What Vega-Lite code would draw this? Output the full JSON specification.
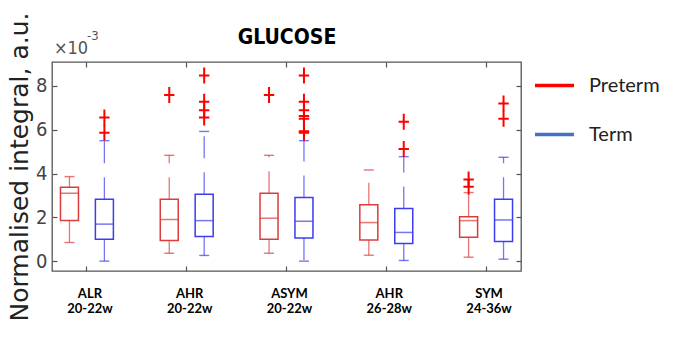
{
  "$schema": "https://vega.github.io/schema/vega-lite/v6.json",
  "width": 469,
  "height": 209,
  "autosize": {"type": "none"},
  "padding": {"left": 52, "top": 62, "right": 157, "bottom": 68},
  "background": "white",
  "config": {"view": {"stroke": "#555555", "strokeWidth": 1.3}},
  "datasets": {
    "stats": [
      {"group": "ALR|20-22w", "series": "Preterm", "lo": 0.85, "q1": 1.85, "med": 3.10, "q3": 3.37, "hi": 3.86},
      {"group": "ALR|20-22w", "series": "Term", "lo": 0.0, "q1": 1.0, "med": 1.69, "q3": 2.82, "hi": 5.5},
      {"group": "AHR|20-22w", "series": "Preterm", "lo": 0.36, "q1": 0.94, "med": 1.90, "q3": 2.82, "hi": 4.83},
      {"group": "AHR|20-22w", "series": "Term", "lo": 0.26, "q1": 1.12, "med": 1.85, "q3": 3.05, "hi": 5.92},
      {"group": "ASYM|20-22w", "series": "Preterm", "lo": 0.36, "q1": 1.0, "med": 1.96, "q3": 3.10, "hi": 4.83},
      {"group": "ASYM|20-22w", "series": "Term", "lo": 0.0, "q1": 1.06, "med": 1.82, "q3": 2.90, "hi": 5.5},
      {"group": "AHR|26-28w", "series": "Preterm", "lo": 0.27, "q1": 0.97, "med": 1.76, "q3": 2.57, "hi": 4.16},
      {"group": "AHR|26-28w", "series": "Term", "lo": 0.03, "q1": 0.80, "med": 1.31, "q3": 2.40, "hi": 4.77},
      {"group": "SYM|24-36w", "series": "Preterm", "lo": 0.18, "q1": 1.09, "med": 1.85, "q3": 2.03, "hi": 3.13},
      {"group": "SYM|24-36w", "series": "Term", "lo": 0.09, "q1": 0.90, "med": 1.88, "q3": 2.82, "hi": 4.74}
    ],
    "outliers": [
      {"group": "ALR|20-22w", "series": "Term", "value": 6.56},
      {"group": "ALR|20-22w", "series": "Term", "value": 5.86},
      {"group": "AHR|20-22w", "series": "Preterm", "value": 7.58},
      {"group": "AHR|20-22w", "series": "Term", "value": 8.47},
      {"group": "AHR|20-22w", "series": "Term", "value": 7.27},
      {"group": "AHR|20-22w", "series": "Term", "value": 6.89},
      {"group": "AHR|20-22w", "series": "Term", "value": 6.56},
      {"group": "ASYM|20-22w", "series": "Preterm", "value": 7.58},
      {"group": "ASYM|20-22w", "series": "Term", "value": 8.47},
      {"group": "ASYM|20-22w", "series": "Term", "value": 7.27},
      {"group": "ASYM|20-22w", "series": "Term", "value": 6.89},
      {"group": "ASYM|20-22w", "series": "Term", "value": 6.62},
      {"group": "ASYM|20-22w", "series": "Term", "value": 6.5},
      {"group": "ASYM|20-22w", "series": "Term", "value": 5.93},
      {"group": "ASYM|20-22w", "series": "Term", "value": 5.86},
      {"group": "AHR|26-28w", "series": "Term", "value": 6.36},
      {"group": "AHR|26-28w", "series": "Term", "value": 5.12},
      {"group": "SYM|24-36w", "series": "Preterm", "value": 3.73},
      {"group": "SYM|24-36w", "series": "Preterm", "value": 3.40},
      {"group": "SYM|24-36w", "series": "Term", "value": 7.2},
      {"group": "SYM|24-36w", "series": "Term", "value": 6.5}
    ],
    "annot": [
      {"base": "×10", "exp": "-3"}
    ]
  },
  "layer": [
    {
      "data": {"name": "stats"},
      "mark": {"type": "rule", "strokeWidth": 1.3, "opacity": 0.7, "strokeDash": [22, 14]},
      "encoding": {
        "x": {"field": "group", "type": "nominal", "sort": ["ALR|20-22w", "AHR|20-22w", "ASYM|20-22w", "AHR|26-28w", "SYM|24-36w"], "scale": {"paddingInner": 0.3, "paddingOuter": 0}, "axis": null},
        "xOffset": {"field": "series", "type": "nominal", "scale": {"domain": ["Preterm", "Term"], "paddingInner": 0, "paddingOuter": 0}},
        "y": {"field": "q3", "type": "quantitative", "scale": {"domain": [-0.45, 9.09], "nice": false, "zero": false}, "axis": null},
        "y2": {"field": "hi"},
        "stroke": {"field": "series", "type": "nominal", "scale": {"range": ["#dc3c3c", "#3c3cf0"]}, "legend": null}
      }
    },
    {
      "data": {"name": "stats"},
      "mark": {"type": "rule", "strokeWidth": 1.3, "opacity": 0.7, "strokeDash": [22, 14]},
      "encoding": {
        "x": {"field": "group", "type": "nominal", "sort": ["ALR|20-22w", "AHR|20-22w", "ASYM|20-22w", "AHR|26-28w", "SYM|24-36w"], "axis": null},
        "xOffset": {"field": "series", "type": "nominal"},
        "y": {"field": "q1", "type": "quantitative", "axis": null},
        "y2": {"field": "lo"},
        "stroke": {"field": "series", "type": "nominal", "legend": null}
      }
    },
    {
      "data": {"name": "stats"},
      "mark": {"type": "tick", "size": 10, "thickness": 1.4},
      "encoding": {
        "x": {"field": "group", "type": "nominal", "sort": ["ALR|20-22w", "AHR|20-22w", "ASYM|20-22w", "AHR|26-28w", "SYM|24-36w"], "axis": null},
        "xOffset": {"field": "series", "type": "nominal"},
        "y": {"field": "hi", "type": "quantitative", "axis": null},
        "fill": {"field": "series", "type": "nominal", "scale": {"range": ["#dc3c3c", "#3c3cf0"]}, "legend": null}
      }
    },
    {
      "data": {"name": "stats"},
      "mark": {"type": "tick", "size": 10, "thickness": 1.4},
      "encoding": {
        "x": {"field": "group", "type": "nominal", "sort": ["ALR|20-22w", "AHR|20-22w", "ASYM|20-22w", "AHR|26-28w", "SYM|24-36w"], "axis": null},
        "xOffset": {"field": "series", "type": "nominal"},
        "y": {"field": "lo", "type": "quantitative", "axis": null},
        "fill": {"field": "series", "type": "nominal", "legend": null}
      }
    },
    {
      "data": {"name": "stats"},
      "mark": {"type": "bar", "width": 18, "filled": false, "strokeWidth": 1.5},
      "encoding": {
        "x": {"field": "group", "type": "nominal", "sort": ["ALR|20-22w", "AHR|20-22w", "ASYM|20-22w", "AHR|26-28w", "SYM|24-36w"], "axis": {"orient": "bottom", "title": null, "domain": false, "grid": false, "tickSize": -5, "tickColor": "#555555", "tickWidth": 1.2, "labelAngle": 0, "labelExpr": "split(datum.label, '|')", "labelFont": "Lato", "labelFontWeight": "bold", "labelFontSize": 13, "labelColor": "#000000", "labelLineHeight": 15, "labelPadding": 21, "labelOffset": 3}},
        "xOffset": {"field": "series", "type": "nominal"},
        "y": {"field": "q1", "type": "quantitative", "axis": {"orient": "left", "values": [0, 2, 4, 6, 8], "grid": false, "domain": false, "tickSize": -5, "tickColor": "#555555", "tickWidth": 1.2, "labelFont": "'DejaVu Sans Condensed', 'Liberation Sans', sans-serif", "labelFontSize": 20, "labelColor": "#444444", "labelPadding": 10, "title": "Normalised integral, a.u.", "titleFont": "DejaVu Sans", "titleFontSize": 25, "titleFontWeight": "normal", "titleColor": "#222222", "titlePadding": 3}},
        "y2": {"field": "q3"},
        "stroke": {"field": "series", "type": "nominal", "legend": null}
      }
    },
    {
      "data": {"name": "stats"},
      "mark": {"type": "tick", "size": 18, "thickness": 1.5},
      "encoding": {
        "x": {"field": "group", "type": "nominal", "sort": ["ALR|20-22w", "AHR|20-22w", "ASYM|20-22w", "AHR|26-28w", "SYM|24-36w"], "axis": null},
        "xOffset": {"field": "series", "type": "nominal"},
        "y": {"field": "med", "type": "quantitative", "axis": null},
        "fill": {"field": "series", "type": "nominal", "legend": null}
      }
    },
    {
      "data": {"name": "outliers"},
      "mark": {"type": "point", "shape": "M-0.65,0H0.65M0,-1V1", "filled": false, "size": 256, "strokeWidth": 2, "color": "#ff0000", "opacity": 1},
      "encoding": {
        "x": {"field": "group", "type": "nominal", "sort": ["ALR|20-22w", "AHR|20-22w", "ASYM|20-22w", "AHR|26-28w", "SYM|24-36w"], "axis": null},
        "xOffset": {"field": "series", "type": "nominal"},
        "y": {"field": "value", "type": "quantitative", "axis": null}
      }
    },
    {
      "data": {"name": "stats"},
      "mark": {"type": "point", "size": 0, "filled": false},
      "encoding": {
        "x": {"field": "group", "type": "nominal", "sort": ["ALR|20-22w", "AHR|20-22w", "ASYM|20-22w", "AHR|26-28w", "SYM|24-36w"], "axis": {"orient": "top", "title": "GLUCOSE", "titleFont": "'DejaVu Sans Condensed', 'Liberation Sans', sans-serif", "titleFontWeight": "bold", "titleFontSize": 21, "titleColor": "#000000", "titlePadding": 14, "labels": false, "domain": false, "grid": false, "tickSize": -5, "tickColor": "#555555", "tickWidth": 1.2}},
        "xOffset": {"field": "series", "type": "nominal"},
        "y": {"field": "med", "type": "quantitative", "axis": {"orient": "right", "title": null, "labels": false, "domain": false, "grid": false, "values": [0, 2, 4, 6, 8], "tickSize": -5, "tickColor": "#555555", "tickWidth": 1.2}},
        "color": {"field": "series", "type": "nominal", "scale": {"domain": ["Preterm", "Term"], "range": ["#ff0000", "#4472c4"]}, "legend": {"orient": "none", "legendX": 481, "legendY": 2, "title": null, "symbolType": "stroke", "symbolSize": 1521, "symbolStrokeWidth": 3.5, "symbolOpacity": 1, "labelFont": "Lato", "labelFontSize": 20, "labelColor": "#222222", "labelOffset": 13, "rowPadding": 17, "padding": 0}}
      }
    },
    {
      "data": {"name": "annot"},
      "mark": {"type": "text", "font": "'DejaVu Sans Condensed', 'Liberation Sans', sans-serif", "fontSize": 18, "color": "#555555", "align": "left", "baseline": "bottom", "dx": -33, "dy": -4},
      "encoding": {
        "text": {"field": "base"},
        "x": {"datum": "ALR|20-22w", "type": "nominal", "axis": null},
        "y": {"datum": 9.09, "type": "quantitative", "axis": null}
      }
    },
    {
      "data": {"name": "annot"},
      "mark": {"type": "text", "font": "'DejaVu Sans Condensed', 'Liberation Sans', sans-serif", "fontSize": 13, "color": "#555555", "align": "left", "baseline": "bottom", "dx": 0, "dy": -19},
      "encoding": {
        "text": {"field": "exp"},
        "x": {"datum": "ALR|20-22w", "type": "nominal", "axis": null},
        "y": {"datum": 9.09, "type": "quantitative", "axis": null}
      }
    }
  ],
  "resolve": {"axis": {"x": "independent", "y": "independent"}}
}
